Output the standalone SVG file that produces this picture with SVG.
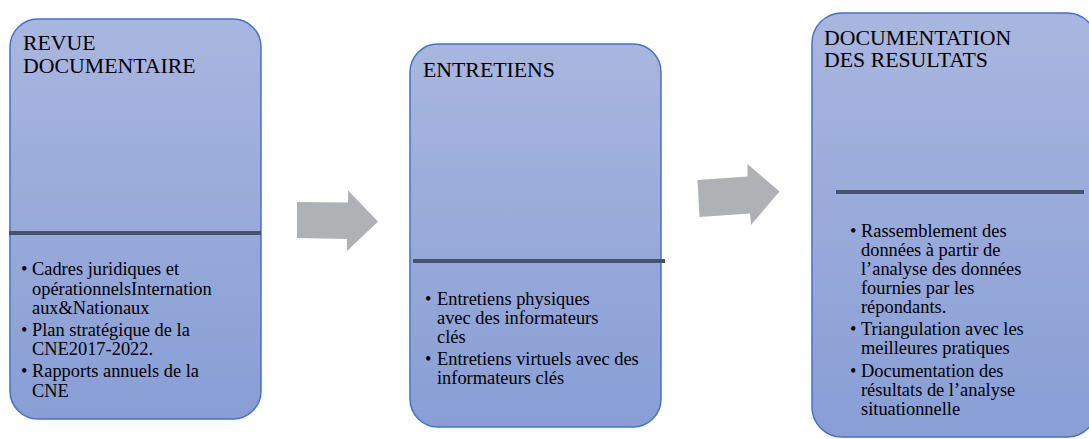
<svg xmlns="http://www.w3.org/2000/svg" width="1089" height="439" viewBox="0 0 1089 439">
<defs>
<linearGradient id="g" x1="0" y1="0" x2="0" y2="1">
<stop offset="0" stop-color="#a9b6df"/>
<stop offset="1" stop-color="#889ed5"/>
</linearGradient>
<style>
.box{fill:url(#g);stroke:#4472c4;stroke-width:1.5}
.sep{stroke:#44546a;stroke-width:4}
.t{font-family:"Liberation Serif","Times New Roman",serif;font-size:21.8px;fill:#000}
.b{font-family:"Liberation Serif","Times New Roman",serif;font-size:18.4px;fill:#000}
.arrow{fill:#afb1b4}
</style>
</defs>
<rect width="1089" height="439" fill="#fff"/>
<g id="node-revue">
<rect class="box" x="10" y="19" width="251" height="400" rx="28"/>
<line class="sep" x1="9" y1="233" x2="261" y2="233"/>
<text class="t" x="23" y="50">REVUE</text>
<text class="t" x="23" y="73">DOCUMENTAIRE</text>
<text class="b" x="21" y="275">•</text>
<text class="b" x="32" y="275">Cadres juridiques et</text>
<text class="b" x="32" y="295">opérationnelsInternation</text>
<text class="b" x="32" y="314">aux&amp;Nationaux</text>
<text class="b" x="21" y="336">•</text>
<text class="b" x="32" y="336">Plan stratégique de la</text>
<text class="b" x="32" y="355">CNE2017-2022.</text>
<text class="b" x="21" y="377">•</text>
<text class="b" x="32" y="377">Rapports annuels de la</text>
<text class="b" x="32" y="397">CNE</text>
</g>
<g id="node-entretiens">
<rect class="box" x="410" y="44" width="251" height="383" rx="28"/>
<line class="sep" x1="413" y1="261" x2="665" y2="261"/>
<text class="t" x="423" y="77">ENTRETIENS</text>
<text class="b" x="425" y="305">•</text>
<text class="b" x="437" y="305">Entretiens physiques</text>
<text class="b" x="437" y="324">avec des informateurs</text>
<text class="b" x="437" y="343">clés</text>
<text class="b" x="425" y="365">•</text>
<text class="b" x="437" y="365">Entretiens virtuels avec des</text>
<text class="b" x="437" y="384">informateurs clés</text>
</g>
<g id="node-documentation">
<rect class="box" x="812" y="13" width="285" height="424" rx="30"/>
<line class="sep" x1="836" y1="192" x2="1084" y2="192"/>
<text class="t" x="824" y="45">DOCUMENTATION</text>
<text class="t" x="824" y="67">DES RESULTATS</text>
<text class="b" x="850" y="237">•</text>
<text class="b" x="861" y="237">Rassemblement des</text>
<text class="b" x="861" y="256">données à partir de</text>
<text class="b" x="861" y="275">l’analyse des données</text>
<text class="b" x="861" y="294">fournies par les</text>
<text class="b" x="861" y="313">répondants.</text>
<text class="b" x="850" y="335">•</text>
<text class="b" x="861" y="335">Triangulation avec les</text>
<text class="b" x="861" y="354">meilleures pratiques</text>
<text class="b" x="850" y="377">•</text>
<text class="b" x="861" y="377">Documentation des</text>
<text class="b" x="861" y="396">résultats de l’analyse</text>
<text class="b" x="861" y="415">situationnelle</text>
</g>
<g id="connectors">
<polygon class="arrow" points="297,202 348,202.5 348,190.5 378,221.5 347,251 347,239 297,238"/>
<polygon class="arrow" points="697.5,180 747.5,176.5 747.5,164 779.5,191.5 751,225 750,213.5 699.5,217"/>
</g>
</svg>
